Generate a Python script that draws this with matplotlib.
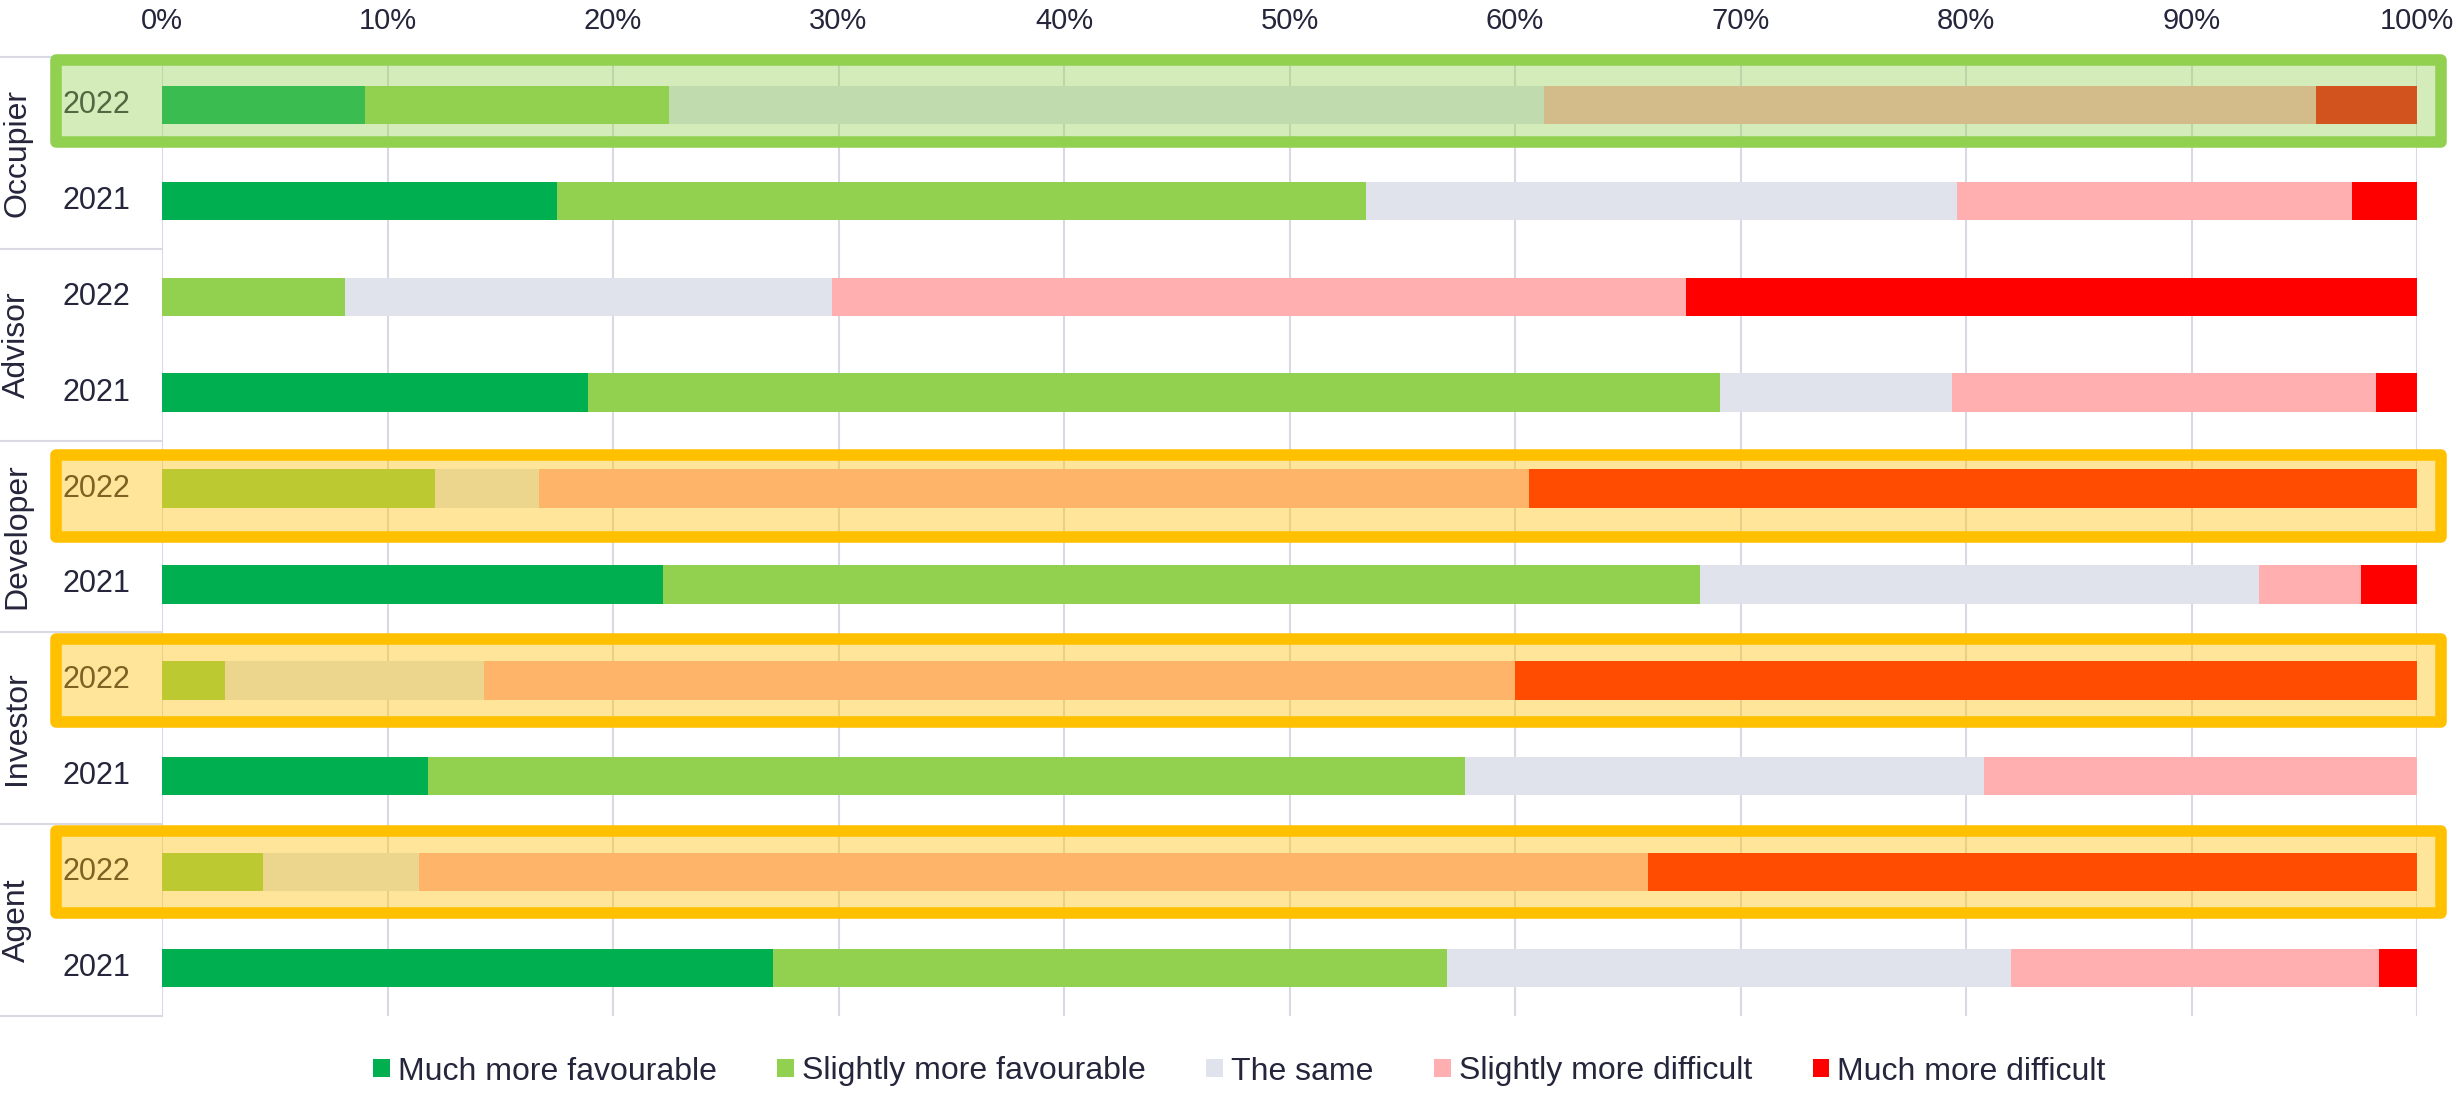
import matplotlib
matplotlib.use("Agg")
import matplotlib.pyplot as plt
import matplotlib.patches as mpatches
import numpy as np

plt.rcParams["font.family"] = ["Liberation Sans", "DejaVu Sans"]

# ── data ──────────────────────────────────────────────────────────────────────
categories = ["Much more favourable", "Slightly more favourable", "The same",
              "Slightly more difficult", "Much more difficult"]
groups = ["Occupier", "Advisor", "Developer", "Investor", "Agent"]
years = ["2022", "2021"]

# one value per row: Occupier 2022, Occupier 2021, Advisor 2022, ... Agent 2021
much_fav    = [9.0, 17.5, 0.0, 18.9, 0.0, 22.2, 0.0, 11.8, 0.0, 27.1]
slight_fav  = [13.5, 35.9, 8.1, 50.2, 12.1, 46.0, 2.8, 46.0, 4.5, 29.9]
same        = [38.8, 26.2, 21.6, 10.3, 4.6, 24.8, 11.5, 23.0, 6.9, 25.0]
slight_diff = [34.2, 17.5, 37.9, 18.8, 43.9, 4.5, 45.7, 19.2, 54.5, 16.3]
much_diff   = [4.5, 2.9, 32.4, 1.8, 39.4, 2.5, 40.0, 0.0, 34.1, 1.7]

# ── style ─────────────────────────────────────────────────────────────────────
COLORS = ["#00B050", "#92D050", "#E0E3EC", "#FFAFAF", "#FF0000"]
TEXT = "#25253B"
GRID = "#D9D9E6"
# highlighted 2022 rows: group -> (colour, vertical nudge in rows)
HIGHLIGHT = {
    "Occupier":  ("#92D050", -0.04),
    "Developer": ("#FFC000", 0.08),
    "Investor":  ("#FFC000", 0.0),
    "Agent":     ("#FFC000", 0.0),
}

W, H = 2464, 1096
fig = plt.figure(figsize=(W / 100, H / 100), dpi=100)
fig.patch.set_facecolor("white")

# plot area in pixels: x 162..2417, y 57..1016
px_l, px_r, px_t, px_b = 162, 2417, 57, 1016
ax = fig.add_axes([px_l / W, 1 - px_b / H, (px_r - px_l) / W, (px_b - px_t) / H])
ax_w = px_r - px_l
row_px = (px_b - px_t) / 10

def ax_x(px):
    return (px - px_l) / ax_w

series = [much_fav, slight_fav, same, slight_diff, much_diff]
y = np.arange(len(much_fav))
left = np.zeros(len(y))
handles = []
for vals, col, cat in zip(series, COLORS, categories):
    vals = np.array(vals)
    bc = ax.barh(y, vals, left=left, height=0.4, color=col, label=cat,
                 zorder=2, linewidth=0)
    handles.append(bc)
    left += vals

ax.set_xlim(0, 100)
ax.set_ylim(9.5, -0.5)
ax.xaxis.tick_top()
ticks = np.arange(0, 101, 10)
ax.set_xticks(ticks)
ax.set_xticklabels([f"{t}%" for t in ticks])
ax.tick_params(axis="x", length=0, pad=16, labelsize=21, labelcolor=TEXT)
ax.set_yticks([])
ax.grid(axis="x", color=GRID, linewidth=1.5, zorder=0)
ax.set_axisbelow(True)
for s in ax.spines.values():
    s.set_visible(False)

trans = ax.get_yaxis_transform()

# year labels and group labels on the left
for gi, g in enumerate(groups):
    for yi, yr in enumerate(years):
        ax.text(ax_x(96), 2 * gi + yi, yr, transform=trans, ha="center",
                va="center", fontsize=22, color=TEXT, zorder=3, clip_on=False)
    ax.text(ax_x(17), 2 * gi + 0.5, g, transform=trans, ha="center",
            va="center", rotation=90, fontsize=23, color=TEXT, zorder=3,
            clip_on=False)

# separators between groups in the label column
for k in range(len(groups) + 1):
    yy = 2 * k - 0.5
    ax.plot([ax_x(0), 0], [yy, yy], transform=trans, color=GRID,
            linewidth=1.5, clip_on=False, zorder=1)

# highlight boxes drawn over the 2022 rows
box_h = 82.5 / row_px
x0, x1 = ax_x(56), ax_x(2441)
for gi, g in enumerate(groups):
    if g not in HIGHLIGHT:
        continue
    col, nudge = HIGHLIGHT[g]
    c = 2 * gi + nudge
    rect = mpatches.Rectangle((x0, c - box_h / 2), x1 - x0, box_h,
                              transform=trans, facecolor=matplotlib.colors.to_rgba(col, 0.4),
                              edgecolor=col, linewidth=8.3, joinstyle="round",
                              zorder=5, clip_on=False)
    ax.add_patch(rect)

fig.legend(handles, categories, loc="center", bbox_to_anchor=(0.503, 1 - 1071.5 / H),
           ncol=5, frameon=False, fontsize=23, handlelength=0.52,
           handleheight=0.52, handletextpad=0.25, columnspacing=1.9,
           labelcolor=TEXT)

fig.savefig("out.png", dpi=100, facecolor="white")
